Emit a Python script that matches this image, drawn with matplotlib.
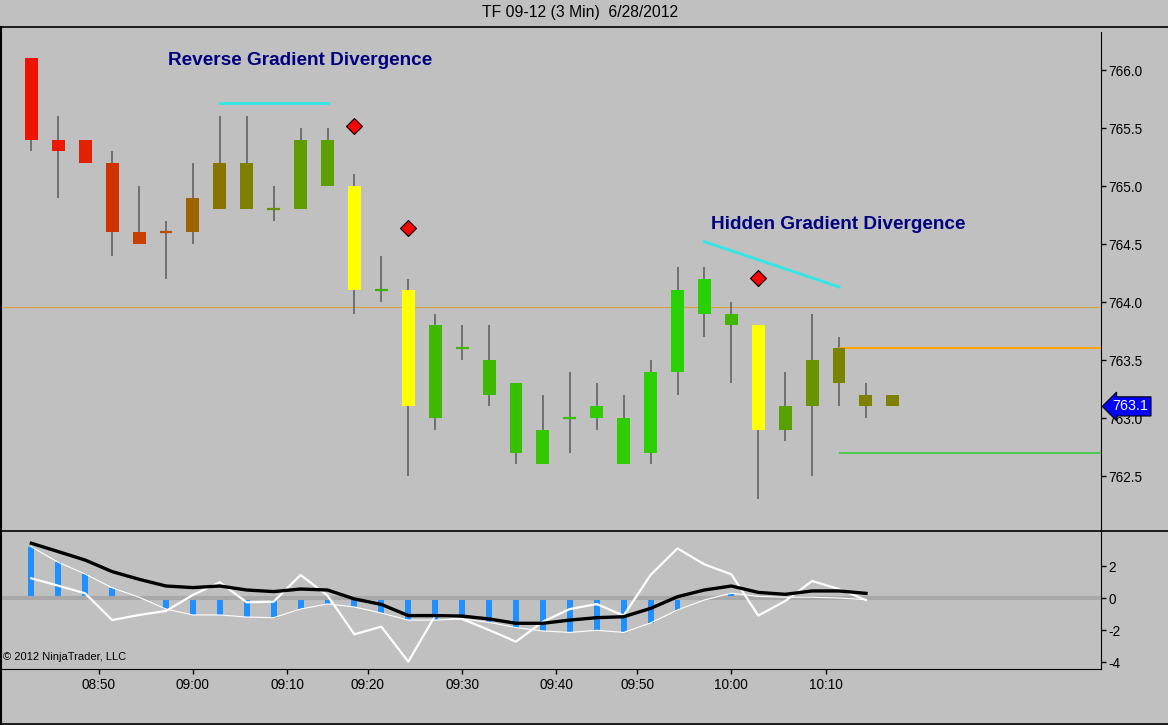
import numpy as np
import matplotlib
matplotlib.use("Agg")
import matplotlib.pyplot as plt
from matplotlib.lines import Line2D
from matplotlib.transforms import blended_transform_factory

plt.rcParams['font.family'] = ['Liberation Sans', 'DejaVu Sans']

W, H = 1168, 725
BG = '#C0C0C0'

title = 'TF 09-12 (3 Min)  6/28/2012'
start_minute = 8 * 60 + 42   # first bar close 08:42, 3 min bars
bar_minutes = 3

opens = [766.1, 765.4, 765.4, 765.2, 764.6, 764.6, 764.6, 764.8, 765.2, 764.8, 764.8,
         765.4, 765.0, 764.1, 764.1, 763.0, 763.6, 763.5, 763.3, 762.6, 763.0, 763.0,
         763.0, 762.7, 763.4, 763.9, 763.9, 763.8, 762.9, 763.1, 763.6, 763.2, 763.2]
highs = [766.1, 765.6, 765.4, 765.3, 765.0, 764.7, 765.2, 765.6, 765.6, 765.0, 765.5,
         765.5, 765.1, 764.4, 764.2, 763.9, 763.8, 763.8, 763.3, 763.2, 763.4, 763.3,
         763.2, 763.5, 764.3, 764.3, 764.0, 763.8, 763.4, 763.9, 763.7, 763.3, 763.2]
lows = [765.3, 764.9, 765.2, 764.4, 764.5, 764.2, 764.5, 764.8, 764.8, 764.7, 764.8,
        765.0, 763.9, 764.0, 762.5, 762.9, 763.5, 763.1, 762.6, 762.6, 762.7, 762.9,
        762.6, 762.6, 763.2, 763.7, 763.3, 762.3, 762.8, 762.5, 763.1, 763.0, 763.1]
closes = [765.4, 765.3, 765.2, 764.6, 764.5, 764.6, 764.9, 765.2, 764.8, 764.8, 765.4,
          765.0, 764.1, 764.1, 763.1, 763.8, 763.6, 763.2, 762.7, 762.9, 763.0, 763.1,
          762.6, 763.4, 764.1, 764.2, 763.8, 762.9, 763.1, 763.5, 763.3, 763.1, 763.1]
bar_colors = ['#EE1200', '#EC1800', '#E02200', '#D03200', '#C84000', '#B85000', '#9E6400',
              '#8A7400', '#808000', '#6A9000', '#609C00', '#5CA000', '#FFFF00', '#40B000',
              '#FFFF00', '#40B800', '#40B800', '#40B800', '#38C000', '#33C800', '#38C000',
              '#30CC00', '#2ECC00', '#2CD000', '#28D200', '#28D200', '#40B800', '#FFFF00',
              '#58A000', '#689400', '#788400', '#808000', '#808000']

signal_bars = [12, 14, 27]
signal_prices = [765.52, 764.64, 764.21]

div1_bars = [7, 11]
div1_prices = [765.72, 765.72]
div2_bars = [25, 30]
div2_prices = [764.52, 764.13]
div1_text = 'Reverse Gradient Divergence'
div2_text = 'Hidden Gradient Divergence'

ref_line_price = 763.955
level_start_bar = 30
upper_level = 763.6
lower_level = 762.7
last_price = 763.1

price_ticks = [762.5, 763.0, 763.5, 764.0, 764.5, 765.0, 765.5, 766.0]
osc_ticks = [-4, -2, 0, 2]
time_labels = ['08:50', '09:00', '09:10', '09:20', '09:30', '09:40', '09:50', '10:00', '10:10']

hist = [3.2, 2.23, 1.5, 0.64, 0.05, -0.69, -1.06, -1.06, -1.19, -1.23, -0.69, -0.37, -0.56,
        -0.94, -1.38, -1.38, -1.31, -1.52, -1.85, -2.06, -2.15, -2.02, -2.15, -1.56, -0.75,
        -0.12, 0.3, 0.1, 0.05, 0.05, 0.0, -0.1]
black_line = [3.42, 2.9, 2.37, 1.65, 1.17, 0.75, 0.65, 0.75, 0.5, 0.4, 0.56, 0.5, -0.06,
              -0.4, -1.1, -1.1, -1.13, -1.31, -1.58, -1.58, -1.38, -1.23, -1.17, -0.65,
              0.08, 0.5, 0.75, 0.35, 0.23, 0.44, 0.44, 0.29]
white_line = [1.23, 0.77, 0.29, -1.38, -1.06, -0.81, 0.19, 0.98, -0.27, -0.23, 1.44, 0.15,
              -2.27, -1.79, -3.98, -1.1, -1.31, -2.0, -2.73, -1.48, -0.69, -0.38, -1.1,
              1.44, 3.1, 2.1, 1.48, -1.1, -0.19, 1.06, 0.56, -0.13]


def fx(px):
    return px / W


def fy(py):
    return 1 - py / H


def fig_line(fig, x0, y0, x1, y1, lw=1.2):
    fig.add_artist(Line2D([fx(x0), fx(x1)], [fy(y0), fy(y1)], transform=fig.transFigure,
                          color='black', lw=lw))


fig = plt.figure(figsize=(W / 100, H / 100), dpi=100, facecolor=BG)

ax = fig.add_axes([fx(2), fy(531), fx(1099), 504 / H], facecolor=BG)
ax2 = fig.add_axes([fx(2), fy(669), fx(1099), 138 / H], facecolor=BG)

xlim = (-1.09, 39.73)
n = len(opens)
idx = np.arange(n)

# --- price panel ---
ax.axhline(ref_line_price, color='#D8A040', lw=0.8, zorder=1)
ax.vlines(idx, lows, highs, color='#707070', lw=1.4, zorder=2)
for i in range(n):
    lo, hi = min(opens[i], closes[i]), max(opens[i], closes[i])
    if hi - lo < 1e-9:
        ax.hlines(lo, i - 0.24, i + 0.24, color=bar_colors[i], lw=1.6, zorder=3)
    else:
        ax.bar(i, hi - lo, bottom=lo, width=0.48, color=bar_colors[i], zorder=3, lw=0)

ax.plot(signal_bars, signal_prices, 'D', color='red', mec='black', mew=0.8, ms=7.8, zorder=4)
ax.plot(div1_bars, div1_prices, color='#30E8E8', lw=2, zorder=4)
ax.plot(div2_bars, div2_prices, color='#30E8E8', lw=2, zorder=4)
ax.text(5.08, 766.086, div1_text, color='#000080', fontsize=13.7, fontweight='bold',
        ha='left', va='center')
ax.text(25.25, 764.672, div2_text, color='#000080', fontsize=13.7, fontweight='bold',
        ha='left', va='center')

ax.hlines(upper_level, level_start_bar, xlim[1], color='#FFA500', lw=1.4, zorder=2)
ax.hlines(lower_level, level_start_bar, xlim[1], color='#30C830', lw=1.1, zorder=2)

ax.set_xlim(*xlim)
ax.set_ylim(762.026, 766.371)
ax.set_xticks([])
ax.yaxis.tick_right()
ax.set_yticks(price_ticks)
ax.set_yticklabels(['%.1f' % p for p in price_ticks])
ax.tick_params(axis='y', direction='out', length=3.6, width=1, pad=1.5, labelsize=9.8,
               colors='black')
for s in ['left', 'top', 'bottom']:
    ax.spines[s].set_visible(False)
ax.spines['right'].set_bounds(762.026, 766.33)

trans = blended_transform_factory(ax.transAxes, ax.transData)
ax.text(1.0105, last_price, '%.1f' % last_price, transform=trans, color='white',
        fontsize=10.3, ha='left', va='center', zorder=6, clip_on=False,
        bbox=dict(boxstyle='larrow,pad=0.18', fc='#0000FF', ec='black', lw=0.8))

# --- oscillator panel ---
ax2.bar(idx[:len(hist)], hist, width=0.22, color='#1E90FF', lw=0, zorder=2)
ax2.axhline(0, color='#A8A8A8', lw=3, zorder=3)
ax2.plot(idx[:len(hist)], hist, color='white', lw=0.8, zorder=4)
ax2.plot(idx[:len(white_line)], white_line, color='white', lw=1.6, zorder=5)
ax2.plot(idx[:len(black_line)], black_line, color='black', lw=2.4, zorder=6)

ax2.set_xlim(*xlim)
ax2.set_ylim(-4.4375, 4.1875)
ax2.yaxis.tick_right()
ax2.set_yticks(osc_ticks)
ax2.set_yticklabels([str(t) for t in osc_ticks])
ax2.tick_params(axis='y', direction='out', length=3.6, width=1, pad=1.5, labelsize=9.8)

# time ticks: label sits on its bar, or halfway between bars when it falls between
tick_pos = []
for lab in time_labels:
    hh, mm = lab.split(':')
    k = (int(hh) * 60 + int(mm) - start_minute) / bar_minutes
    tick_pos.append(k if abs(k - round(k)) < 1e-6 else np.floor(k) + 0.5)
ax2.set_xticks(tick_pos)
ax2.set_xticklabels(time_labels)
ax2.tick_params(axis='x', direction='out', length=3.6, width=1, pad=3, labelsize=9.8)
for s in ['left', 'top']:
    ax2.spines[s].set_visible(False)

ax2.text(0.001, -3.7, '\u00a9 2012 NinjaTrader, LLC', transform=blended_transform_factory(
    ax2.transAxes, ax2.transData), fontsize=8, ha='left', va='center')

# --- frame ---
fig_line(fig, 0, 27, W, 27)
fig_line(fig, 0, 531, W, 531)
fig_line(fig, 0, 724, W, 724)
fig_line(fig, 0.6, 27, 0.6, 724, lw=1.5)

fig.text(fx(580), fy(13), title, fontsize=11.3, ha='center', va='center')

fig.savefig('out.png', dpi=100, facecolor=BG)
